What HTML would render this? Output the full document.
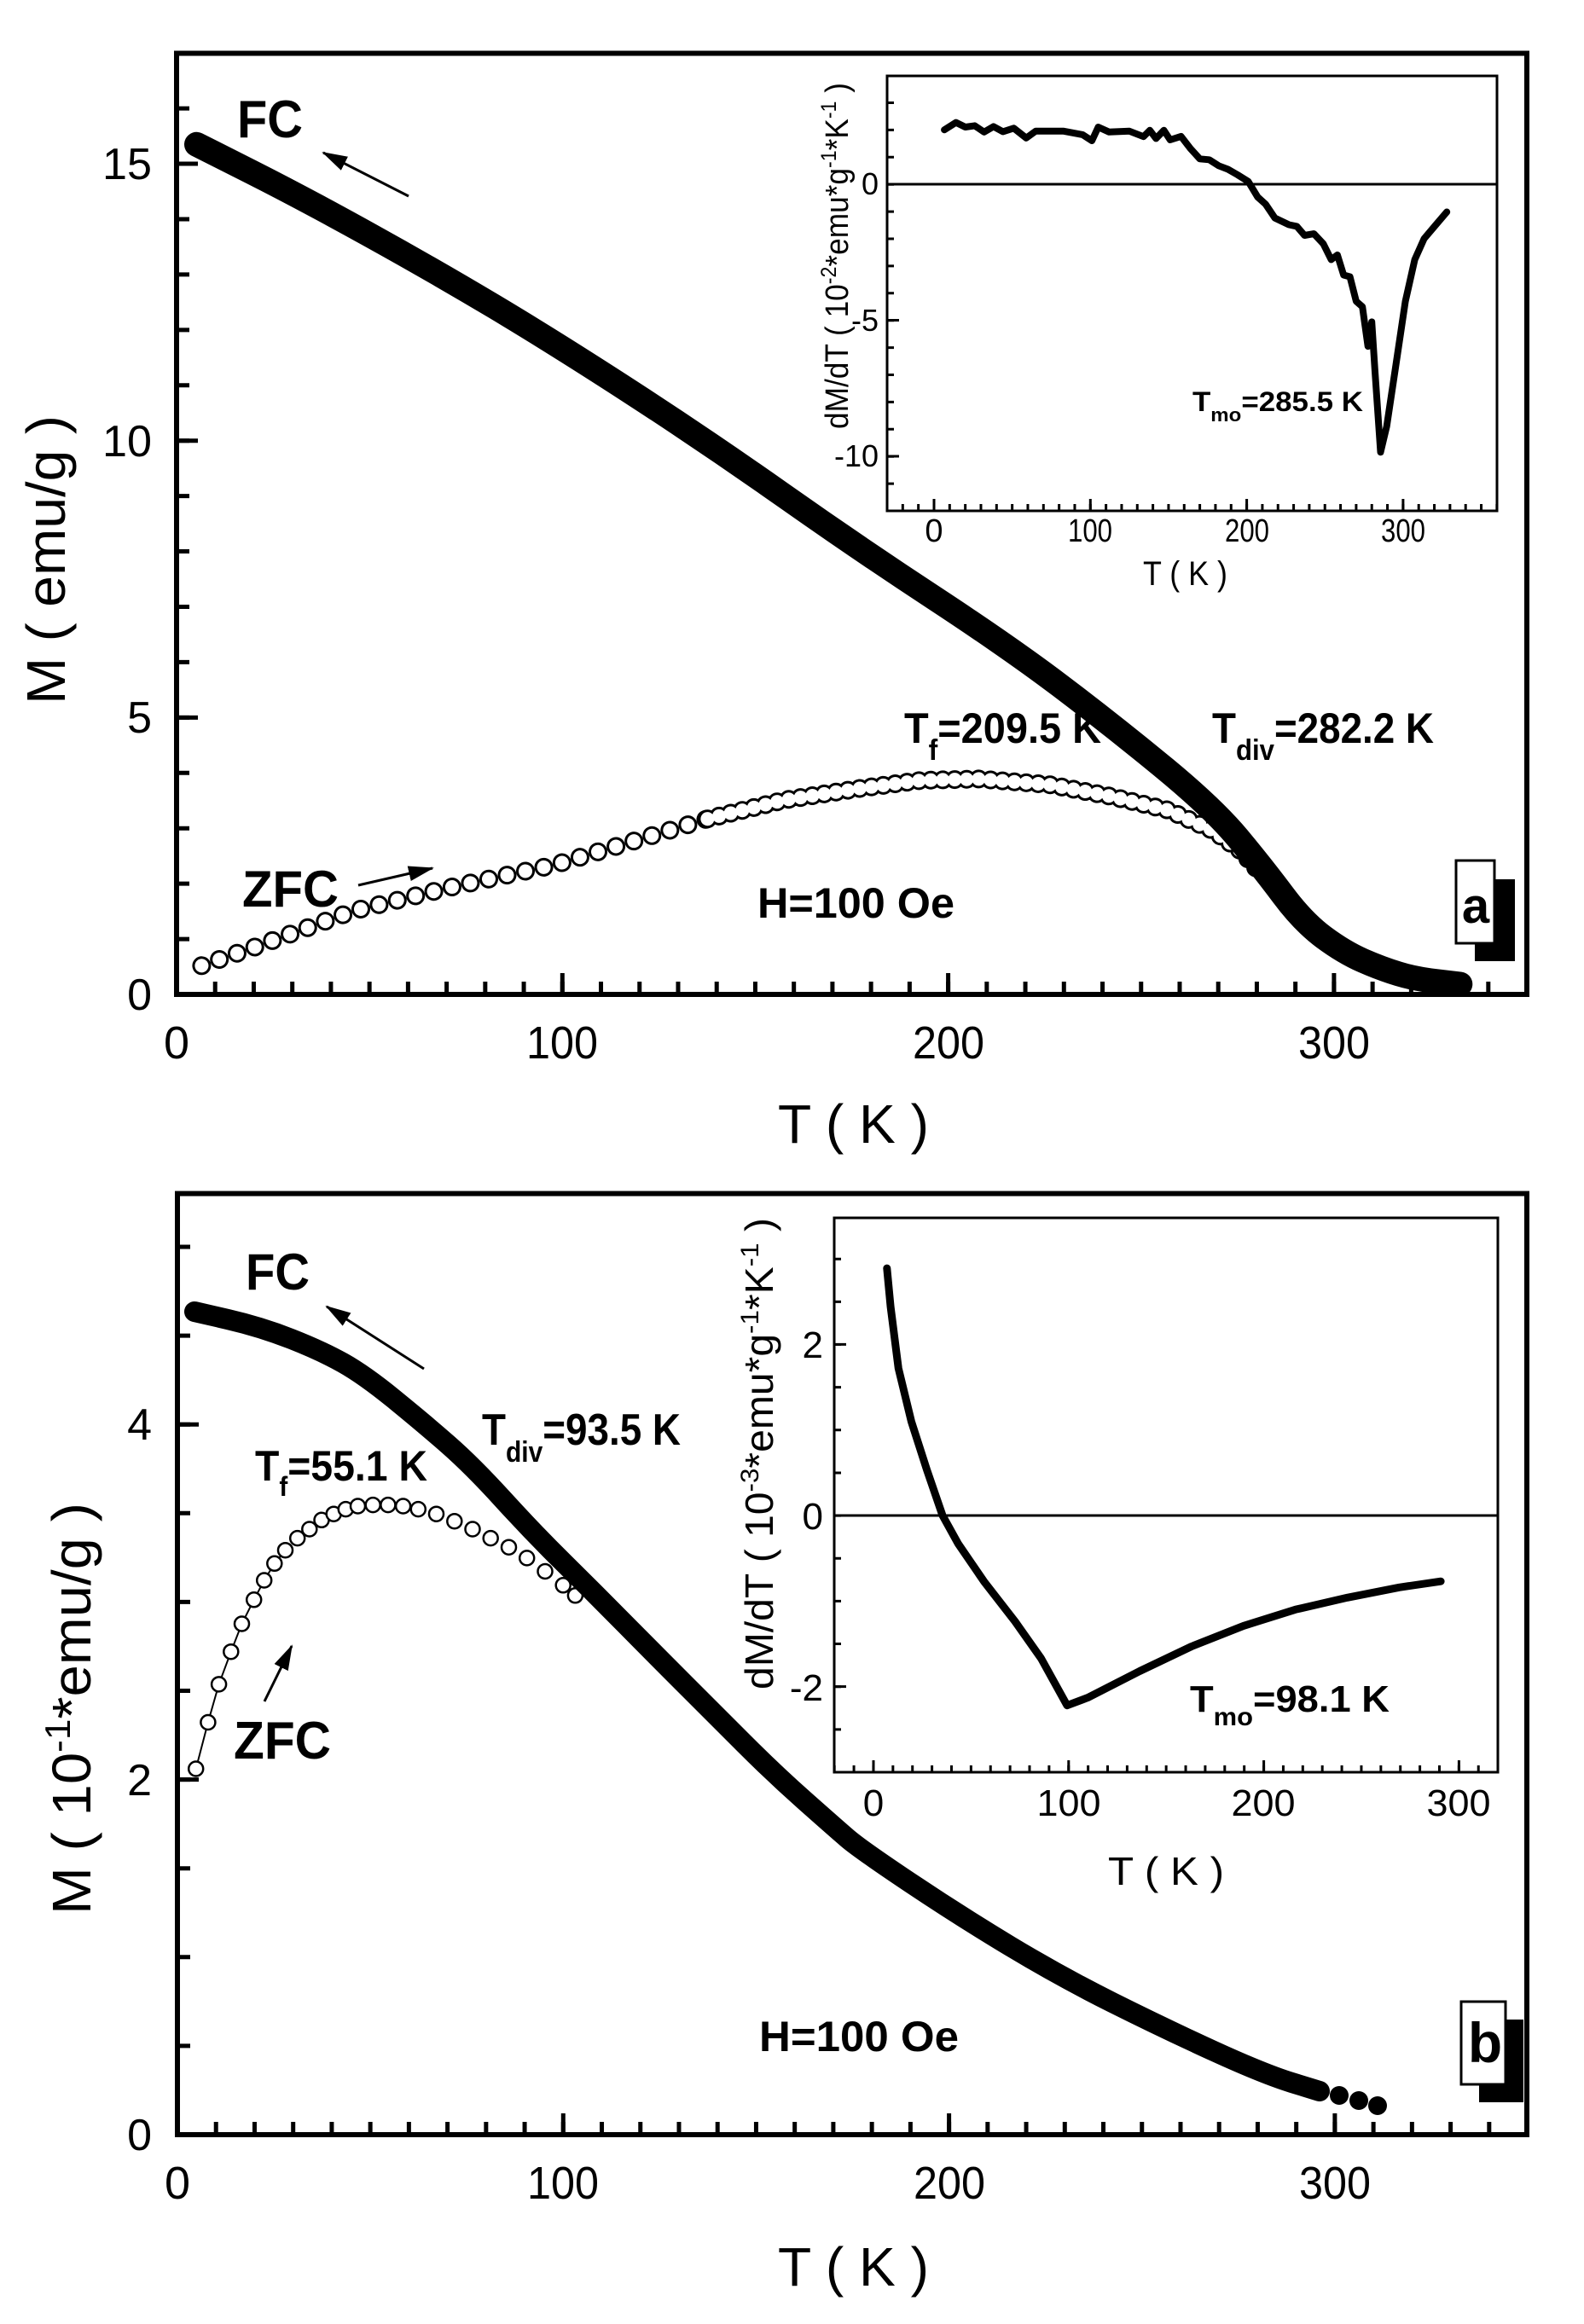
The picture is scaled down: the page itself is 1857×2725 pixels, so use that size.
<!DOCTYPE html>
<html><head><meta charset="utf-8"><style>
html,body{margin:0;padding:0;background:#fff}
svg{display:block}
text{font-family:"Liberation Sans",Arial,sans-serif;fill:#000}
.b{font-weight:bold}
</style></head><body>
<svg width="1857" height="2725" viewBox="0 0 1857 2725" xmlns="http://www.w3.org/2000/svg">
<defs>
<marker id="ah2" markerWidth="30" markerHeight="20" refX="28" refY="10" orient="auto" markerUnits="userSpaceOnUse" viewBox="0 0 30 20">
<path d="M0,1 L30,10 L0,19 Z" fill="#000"/></marker>
</defs>
<rect width="1857" height="2725" fill="#fff"/>

<!-- ================= TOP PANEL ================= -->
<g fill="none" stroke-linecap="round" stroke-linejoin="round">
<path d="M236.4,1132.3 L300,1110 L414.6,1068 L530,1040 L650.3,1014.1 L829.4,960.2" stroke="#000" stroke-width="22" stroke-dasharray="0.01 22"/>
<path d="M236.4,1132.3 L300,1110 L414.6,1068 L530,1040 L650.3,1014.1 L829.4,960.2" stroke="#fff" stroke-width="16" stroke-dasharray="0.01 22"/>
<path d="M829.4,960.2 L920,938 L1007.6,924.5 L1080,915 L1147.8,913.4 L1230,920 L1301.6,933.6 L1370,950 L1421.9,973.8 L1455,998 L1481.1,1027.7" stroke="#000" stroke-width="22" stroke-dasharray="0.01 14"/>
<path d="M829.4,960.2 L920,938 L1007.6,924.5 L1080,915 L1147.8,913.4 L1230,920 L1301.6,933.6 L1370,950 L1421.9,973.8 L1455,998 L1481.1,1027.7" stroke="#fff" stroke-width="16" stroke-dasharray="0.01 14"/>
</g>
<path fill="none" stroke="#000" stroke-width="29" stroke-linecap="round" stroke-linejoin="round"
d="M230.5,169.3 L293,200.8 Q355.4,232.3 432.3,274.9 Q509.1,317.4 579.7,359.6 Q650.3,401.8 739.9,459.9 Q829.4,518 918.3,580.7 Q1007.1,643.3 1095.6,701.4 Q1184,759.5 1242.8,804 Q1301.6,848.5 1361.8,897.9 Q1421.9,947.2 1451.5,982.9 Q1481.1,1018.6 1504.4,1049.8 Q1527.7,1081 1551.7,1098.9 Q1575.7,1116.7 1597.9,1126.4 Q1620,1136 1639.5,1141.9 Q1658.9,1147.8 1685.4,1150.9 L1711.8,1154"/>

<rect x="207" y="62.5" width="1583" height="1103.5" fill="none" stroke="#000" stroke-width="6"/>
<line x1="204.5" y1="1158.5" x2="1790" y2="1158.5" stroke="#000" stroke-width="15" stroke-dasharray="5 40.23"/>
<line x1="204.5" y1="1153.5" x2="1790" y2="1153.5" stroke="#000" stroke-width="25" stroke-dasharray="5 447.3"/>
<line x1="214.5" y1="1168.5" x2="214.5" y2="64" stroke="#000" stroke-width="15" stroke-dasharray="5 59.93"/>
<line x1="219.5" y1="1168.5" x2="219.5" y2="64" stroke="#000" stroke-width="25" stroke-dasharray="5 319.65"/>

<g font-size="52" text-anchor="end">
<text x="178" y="1184">0</text><text x="178" y="859">5</text>
<text x="178" y="535" textLength="58" lengthAdjust="spacingAndGlyphs">10</text>
<text x="178" y="210" textLength="58" lengthAdjust="spacingAndGlyphs">15</text>
</g>
<g font-size="54" text-anchor="middle">
<text x="207" y="1241">0</text>
<text x="659" y="1241" textLength="84" lengthAdjust="spacingAndGlyphs">100</text>
<text x="1112" y="1241" textLength="84" lengthAdjust="spacingAndGlyphs">200</text>
<text x="1564" y="1241" textLength="84" lengthAdjust="spacingAndGlyphs">300</text>
</g>
<text x="912" y="1340" font-size="64" textLength="177" lengthAdjust="spacingAndGlyphs">T ( K )</text>
<text transform="translate(76,826) rotate(-90)" font-size="64" textLength="339" lengthAdjust="spacingAndGlyphs">M ( emu/g )</text>

<text class="b" x="278" y="161" font-size="62" textLength="77" lengthAdjust="spacingAndGlyphs">FC</text>
<line x1="479" y1="230" x2="379" y2="179" stroke="#000" stroke-width="3" marker-end="url(#ah2)"/>
<text class="b" x="284" y="1063" font-size="60" textLength="113" lengthAdjust="spacingAndGlyphs">ZFC</text>
<line x1="420" y1="1038" x2="507" y2="1018" stroke="#000" stroke-width="3" marker-end="url(#ah2)"/>
<text class="b" x="888" y="1076" font-size="50" textLength="231" lengthAdjust="spacingAndGlyphs">H=100 Oe</text>
<text class="b" x="1060" y="871" font-size="50" textLength="231" lengthAdjust="spacingAndGlyphs">T<tspan font-size="34" dy="20">f</tspan><tspan dy="-20">=209.5 K</tspan></text>
<text class="b" x="1421" y="871" font-size="50" textLength="260" lengthAdjust="spacingAndGlyphs">T<tspan font-size="34" dy="20">div</tspan><tspan dy="-20">=282.2 K</tspan></text>
<rect x="1729" y="1031" width="47" height="96" fill="#000"/>
<rect x="1707" y="1009" width="45" height="97" fill="#fff" stroke="#000" stroke-width="3"/>
<text class="b" x="1730" y="1082" font-size="58" text-anchor="middle">a</text>

<!-- inset a -->
<rect x="1040" y="89" width="715" height="510" fill="#fff" stroke="#000" stroke-width="3"/>
<line x1="1040" y1="216" x2="1755" y2="216" stroke="#000" stroke-width="3"/>
<line x1="1038.5" y1="595" x2="1755" y2="595" stroke="#000" stroke-width="8" stroke-dasharray="3 15.33"/>
<line x1="1093.5" y1="592" x2="1755" y2="592" stroke="#000" stroke-width="14" stroke-dasharray="3 180.3"/>
<line x1="1044" y1="600.5" x2="1044" y2="90" stroke="#000" stroke-width="8" stroke-dasharray="3 28.9"/>
<line x1="1047" y1="536.5" x2="1047" y2="90" stroke="#000" stroke-width="14" stroke-dasharray="3 156.5"/>
<polyline fill="none" stroke="#000" stroke-width="8" stroke-linecap="round" stroke-linejoin="round"
points="1107.1,152.2 1120.7,143.6 1131.7,149 1142.7,147.4 1153.7,154.8 1164.7,148.4 1175.7,154.4 1188.5,150.3 1203.1,161.8 1214.1,153.8 1247.1,153.8 1269.1,157.9 1280.1,165 1287.5,149 1300.3,154.8 1324.1,153.8 1340.6,160.2 1348,152.8 1355.3,162.4 1364.5,152.8 1371.8,164 1384.6,159.9 1395.6,174.2 1406.6,186.3 1417.6,187.3 1428.6,194.3 1439.6,198.5 1450.6,204.8 1463.4,212.8 1474.4,231 1483.6,239.3 1494.6,255.6 1511.1,263.5 1520.3,265.4 1529.4,276 1540.4,274.1 1551.4,285.9 1560.6,304.4 1567.9,298.9 1575.2,322.5 1582.6,324.5 1589.9,353.2 1597.2,359.6 1603.7,406.1 1608.2,377.4 1611.9,434.5 1618.5,530.2 1625.7,499.9 1636.7,426.5 1647.6,353.2 1658.6,304.4 1669.6,279.8 1683.4,263.5 1696.2,248.5"/>
<g font-size="36" text-anchor="end">
<text x="1030" y="228">0</text><text x="1030" y="388">-5</text><text x="1030" y="547">-10</text>
</g>
<g font-size="38" text-anchor="middle">
<text x="1095" y="635">0</text>
<text x="1278" y="635" textLength="52" lengthAdjust="spacingAndGlyphs">100</text>
<text x="1462" y="635" textLength="52" lengthAdjust="spacingAndGlyphs">200</text>
<text x="1645" y="635" textLength="52" lengthAdjust="spacingAndGlyphs">300</text>
</g>
<text x="1340" y="686" font-size="40" textLength="99" lengthAdjust="spacingAndGlyphs">T ( K )</text>
<text transform="translate(994,503) rotate(-90)" font-size="38" textLength="406" lengthAdjust="spacingAndGlyphs">dM/dT ( 10<tspan font-size="25" dy="-14">-2</tspan><tspan dy="14">*emu*g</tspan><tspan font-size="25" dy="-14">-1</tspan><tspan dy="14">*K</tspan><tspan font-size="25" dy="-14">-1</tspan><tspan dy="14"> )</tspan></text>
<text class="b" x="1398" y="482" font-size="32" textLength="200" lengthAdjust="spacingAndGlyphs">T<tspan font-size="22" dy="12">mo</tspan><tspan dy="-12">=285.5 K</tspan></text>

<!-- ================= BOTTOM PANEL ================= -->
<polyline fill="none" stroke="#000" stroke-width="2" points="229.7,2074 243.9,2019.5 256.6,1974.9 270.8,1936.7 283.5,1904 297.7,1875.8 309.7,1853 321.8,1833.3 334.5,1817.7"/>
<g fill="#fff" stroke="#000" stroke-width="2.5">
<circle cx="229.7" cy="2074" r="8.5"/><circle cx="243.9" cy="2019.5" r="8.5"/><circle cx="256.6" cy="1974.9" r="8.5"/><circle cx="270.8" cy="1936.7" r="8.5"/><circle cx="283.5" cy="1904" r="8.5"/><circle cx="297.7" cy="1875.8" r="8.5"/><circle cx="309.7" cy="1853" r="8.5"/><circle cx="321.8" cy="1833.3" r="8.5"/><circle cx="334.5" cy="1817.7" r="8.5"/><circle cx="348.7" cy="1803.6" r="8.5"/><circle cx="362.8" cy="1793" r="8.5"/><circle cx="377" cy="1782.3" r="8.5"/><circle cx="391.2" cy="1775.2" r="8.5"/><circle cx="405.3" cy="1769.6" r="8.5"/><circle cx="419.5" cy="1766" r="8.5"/><circle cx="437.2" cy="1764.6" r="8.5"/><circle cx="454.9" cy="1764.6" r="8.5"/><circle cx="472.6" cy="1766" r="8.5"/><circle cx="490.3" cy="1769.6" r="8.5"/><circle cx="511.5" cy="1775.2" r="8.5"/><circle cx="532.8" cy="1783.7" r="8.5"/><circle cx="554" cy="1793" r="8.5"/><circle cx="575.2" cy="1803.6" r="8.5"/><circle cx="596.5" cy="1814.2" r="8.5"/><circle cx="617.7" cy="1826.9" r="8.5"/><circle cx="639" cy="1842.5" r="8.5"/><circle cx="660.2" cy="1858.8" r="8.5"/><circle cx="674.4" cy="1870.8" r="8.5"/>
</g>
<path fill="none" stroke="#000" stroke-width="24" stroke-linecap="round" stroke-linejoin="round"
d="M228,1538 L267,1547 Q306,1556 341.5,1570 Q377,1584 402,1598 Q427,1612 462,1640.5 Q497,1669 525.5,1694 Q554,1719 589.5,1758 Q625,1797 660.5,1832 Q696,1867 731,1902.5 Q766,1938 801.5,1973.5 Q837,2009 872.5,2044.5 Q908,2080 943.5,2111.5 Q979,2143 993.5,2155.5 Q1008,2168 1067,2207.5 Q1126,2247 1185,2282.5 Q1244,2318 1304,2348 Q1364,2378 1423,2405 Q1482,2432 1514.5,2442 L1547,2452"/>
<g fill="#000"><circle cx="1570" cy="2457" r="11"/><circle cx="1593" cy="2463" r="11"/><circle cx="1615" cy="2469" r="11"/></g>

<rect x="208" y="1399.5" width="1582" height="1103.5" fill="none" stroke="#000" stroke-width="6"/>
<line x1="205.5" y1="2495.5" x2="1790" y2="2495.5" stroke="#000" stroke-width="15" stroke-dasharray="5 40.23"/>
<line x1="205.5" y1="2490.5" x2="1790" y2="2490.5" stroke="#000" stroke-width="25" stroke-dasharray="5 447.3"/>
<line x1="215.5" y1="2505.5" x2="215.5" y2="1401" stroke="#000" stroke-width="15" stroke-dasharray="5 99.1"/>
<line x1="220.5" y1="2505.5" x2="220.5" y2="1401" stroke="#000" stroke-width="25" stroke-dasharray="5 411.4"/>

<g font-size="52" text-anchor="end">
<text x="178" y="2521">0</text><text x="178" y="2105">2</text><text x="178" y="1688">4</text>
</g>
<g font-size="54" text-anchor="middle">
<text x="208" y="2578">0</text>
<text x="660" y="2578" textLength="84" lengthAdjust="spacingAndGlyphs">100</text>
<text x="1113" y="2578" textLength="84" lengthAdjust="spacingAndGlyphs">200</text>
<text x="1565" y="2578" textLength="84" lengthAdjust="spacingAndGlyphs">300</text>
</g>
<text x="912" y="2680" font-size="64" textLength="177" lengthAdjust="spacingAndGlyphs">T ( K )</text>
<text transform="translate(106,2245) rotate(-90)" font-size="64" textLength="483" lengthAdjust="spacingAndGlyphs">M ( 10<tspan font-size="42" dy="-24">-1</tspan><tspan dy="24">*emu/g )</tspan></text>

<text class="b" x="288" y="1512" font-size="60" textLength="75" lengthAdjust="spacingAndGlyphs">FC</text>
<line x1="497" y1="1605" x2="383" y2="1532" stroke="#000" stroke-width="3" marker-end="url(#ah2)"/>
<text class="b" x="565" y="1694" font-size="52" textLength="233" lengthAdjust="spacingAndGlyphs">T<tspan font-size="34" dy="20">div</tspan><tspan dy="-20">=93.5 K</tspan></text>
<text class="b" x="299" y="1736" font-size="50" textLength="202" lengthAdjust="spacingAndGlyphs">T<tspan font-size="32" dy="18">f</tspan><tspan dy="-18">=55.1 K</tspan></text>
<text class="b" x="274" y="2062" font-size="62" textLength="114" lengthAdjust="spacingAndGlyphs">ZFC</text>
<line x1="310" y1="1995" x2="342" y2="1930" stroke="#000" stroke-width="3" marker-end="url(#ah2)"/>
<text class="b" x="890" y="2405" font-size="50" textLength="234" lengthAdjust="spacingAndGlyphs">H=100 Oe</text>
<rect x="1734" y="2368" width="52" height="97" fill="#000"/>
<rect x="1713" y="2347" width="52" height="97" fill="#fff" stroke="#000" stroke-width="3"/>
<text class="b" x="1741" y="2418" font-size="66" text-anchor="middle">b</text>

<!-- inset b -->
<rect x="978" y="1428" width="778" height="650" fill="#fff" stroke="#000" stroke-width="3"/>
<line x1="978" y1="1777" x2="1756" y2="1777" stroke="#000" stroke-width="3"/>
<line x1="976.7" y1="2074" x2="1756" y2="2074" stroke="#000" stroke-width="8" stroke-dasharray="3 19.88"/>
<line x1="1022.5" y1="2071" x2="1756" y2="2071" stroke="#000" stroke-width="14" stroke-dasharray="3 225.8"/>
<line x1="982" y1="2079.5" x2="982" y2="1429" stroke="#000" stroke-width="8" stroke-dasharray="3 47.15"/>
<line x1="985" y1="1979.1" x2="985" y2="1429" stroke="#000" stroke-width="14" stroke-dasharray="3 197.6"/>
<polyline fill="none" stroke="#000" stroke-width="9" stroke-linecap="round" stroke-linejoin="round"
points="1039.8,1487.1 1044.1,1532.3 1053.3,1604.5 1068.4,1666.7 1086.7,1723.8 1105,1777 1123.3,1810.1 1153.5,1854.2 1190.1,1901.4 1220.5,1944.5 1251,1999.7 1275.2,1990.6 1336.1,1959.5 1397,1930.5 1457.8,1906.4 1518.7,1887.3 1579.5,1873.3 1640.4,1861.3 1689.1,1854.2"/>
<g font-size="44" text-anchor="end">
<text x="965" y="1592">2</text><text x="965" y="1793">0</text><text x="965" y="1994">-2</text>
</g>
<g font-size="44" text-anchor="middle">
<text x="1024" y="2129">0</text>
<text x="1253" y="2129" textLength="75" lengthAdjust="spacingAndGlyphs">100</text>
<text x="1481" y="2129" textLength="75" lengthAdjust="spacingAndGlyphs">200</text>
<text x="1710" y="2129" textLength="75" lengthAdjust="spacingAndGlyphs">300</text>
</g>
<text x="1299" y="2210" font-size="46" textLength="136" lengthAdjust="spacingAndGlyphs">T ( K )</text>
<text transform="translate(906,1981) rotate(-90)" font-size="46" textLength="553" lengthAdjust="spacingAndGlyphs">dM/dT ( 10<tspan font-size="30" dy="-17">-3</tspan><tspan dy="17">*emu*g</tspan><tspan font-size="30" dy="-17">-1</tspan><tspan dy="17">*K</tspan><tspan font-size="30" dy="-17">-1</tspan><tspan dy="17"> )</tspan></text>
<text class="b" x="1395" y="2007" font-size="44" textLength="234" lengthAdjust="spacingAndGlyphs">T<tspan font-size="30" dy="16">mo</tspan><tspan dy="-16">=98.1 K</tspan></text>
</svg>
</body></html>
